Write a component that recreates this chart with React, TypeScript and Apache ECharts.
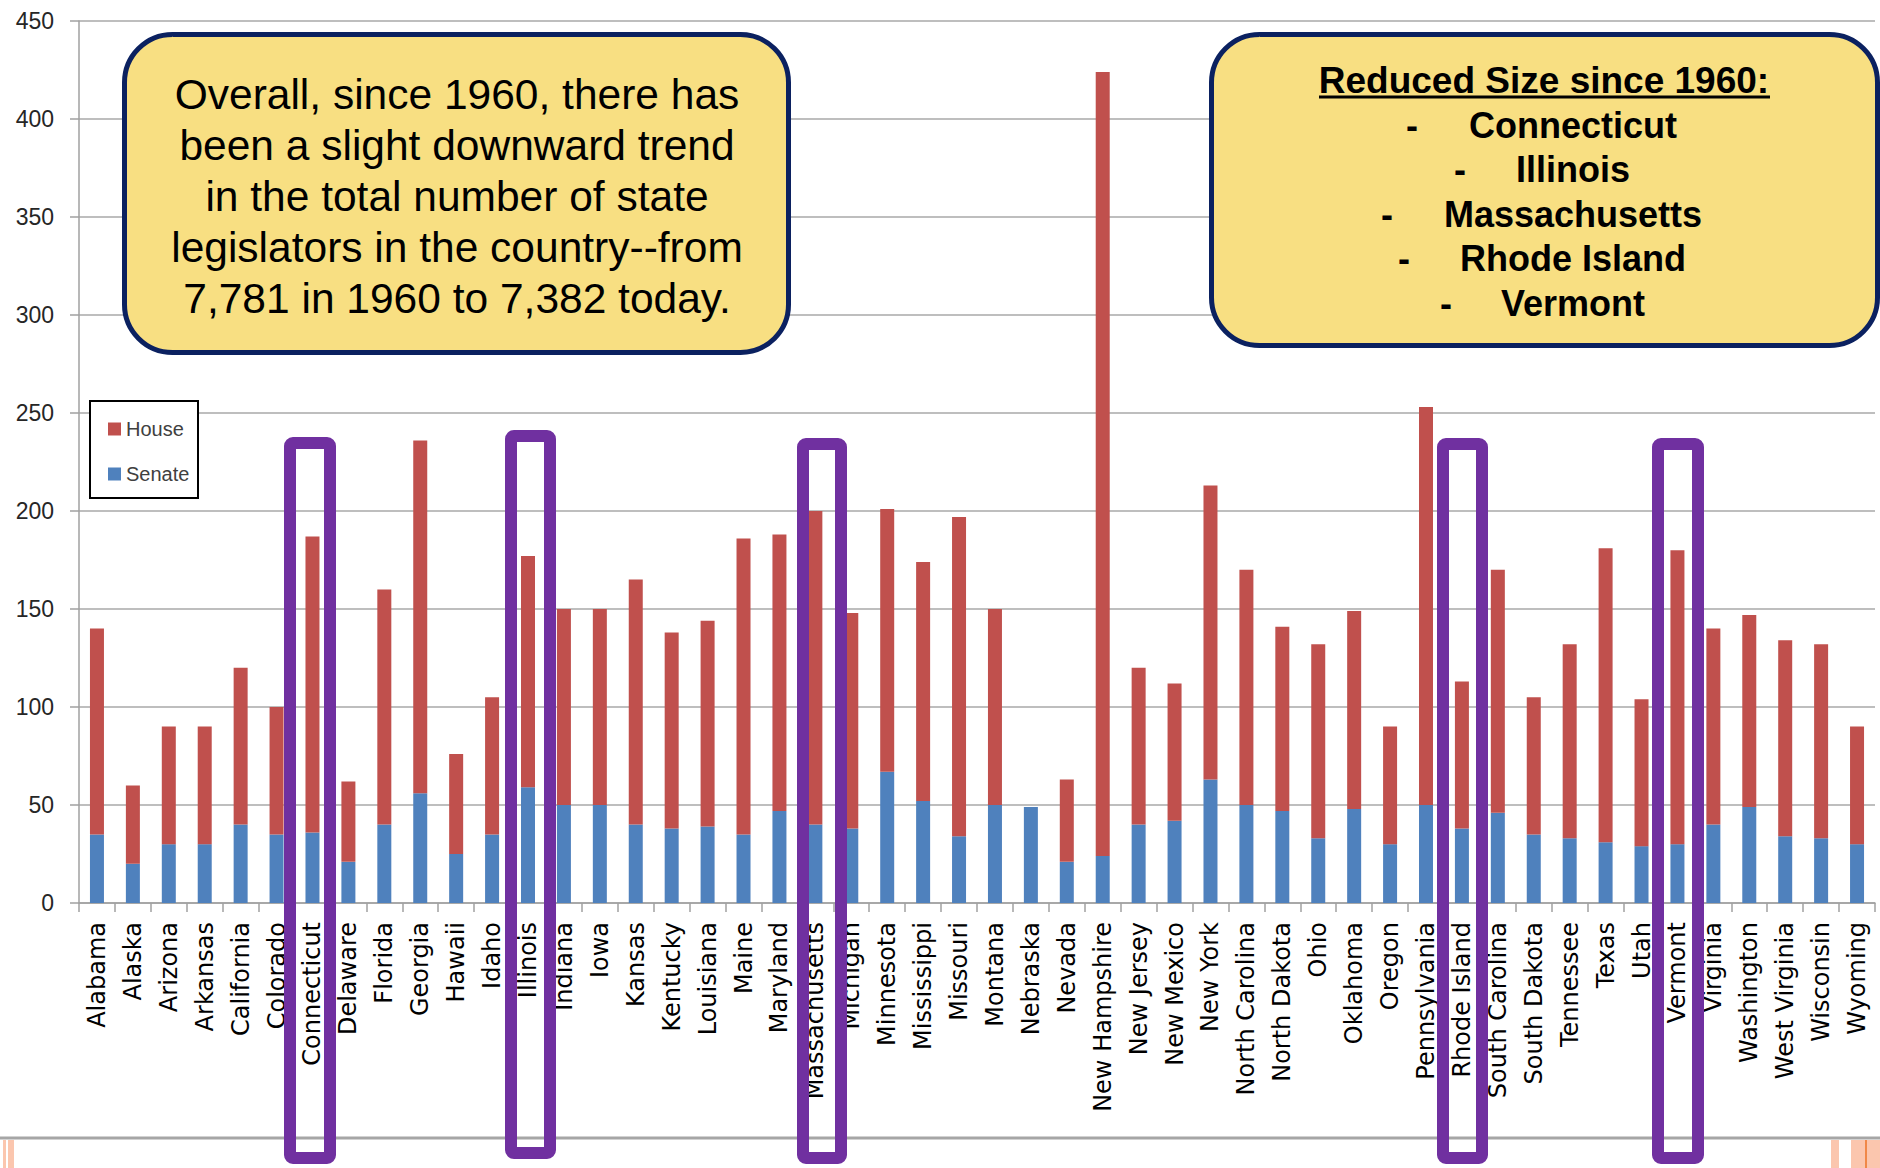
import React, { useEffect, useRef } from "react";
import * as echarts from "echarts";

const states = [
  "Alabama", "Alaska", "Arizona", "Arkansas", "California", "Colorado", "Connecticut", "Delaware", "Florida", "Georgia",
  "Hawaii", "Idaho", "Illinois", "Indiana", "Iowa", "Kansas", "Kentucky", "Louisiana", "Maine", "Maryland",
  "Massachusetts", "Michigan", "Minnesota", "Mississippi", "Missouri", "Montana", "Nebraska", "Nevada", "New Hampshire", "New Jersey",
  "New Mexico", "New York", "North Carolina", "North Dakota", "Ohio", "Oklahoma", "Oregon", "Pennsylvania", "Rhode Island", "South Carolina",
  "South Dakota", "Tennessee", "Texas", "Utah", "Vermont", "Virginia", "Washington", "West Virginia", "Wisconsin", "Wyoming",
];

const senate = [
  35, 20, 30, 30, 40, 35, 36, 21, 40, 56,
  25, 35, 59, 50, 50, 40, 38, 39, 35, 47,
  40, 38, 67, 52, 34, 50, 49, 21, 24, 40,
  42, 63, 50, 47, 33, 48, 30, 50, 38, 46,
  35, 33, 31, 29, 30, 40, 49, 34, 33, 30,
];

const house = [
  105, 40, 60, 60, 80, 65, 151, 41, 120, 180,
  51, 70, 118, 100, 100, 125, 100, 105, 151, 141,
  160, 110, 134, 122, 163, 100, 0, 42, 400, 80,
  70, 150, 120, 94, 99, 101, 60, 203, 75, 124,
  70, 99, 150, 75, 150, 100, 98, 100, 99, 60,
];

const yTicks = { min: 0, max: 450, interval: 50 };

const leftNote = [
  "Overall, since 1960, there has",
  "been a slight downward trend",
  "in the total number of state",
  "legislators in the country--from",
  "7,781 in 1960 to 7,382 today.",
];

const rightTitle = "Reduced Size since 1960:";
const reducedStates = ["Connecticut", "Illinois", "Massachusetts", "Rhode Island", "Vermont"];

export default function App() {
  const ref = useRef<HTMLDivElement>(null);

  useEffect(() => {
    if (!ref.current) return;
    const chart = echarts.init(ref.current, undefined, { renderer: "svg" });

    const graphics: any[] = [];
    // bottom slide line and decorations
    graphics.push({
      type: "line", z: 50,
      shape: { x1: 0, y1: 1138, x2: 1880, y2: 1138 },
      style: { stroke: "#a6a6a6", lineWidth: 3 },
    });
    const pinks = [
      [3, 3], [8, 6], [1831, 8], [1851, 29],
    ];
    pinks.forEach(([x, w]) =>
      graphics.push({ type: "rect", z: 50, shape: { x, y: 1140, width: w, height: 28 }, style: { fill: "#fbc6ae" } })
    );
    graphics.push({ type: "rect", z: 51, shape: { x: 1865, y: 1140, width: 2, height: 28 }, style: { fill: "#f08848" } });

    // left callout
    graphics.push({
      type: "rect", z: 100,
      shape: { x: 124.5, y: 34.5, width: 664, height: 318, r: 48 },
      style: { fill: "#f8df82", stroke: "#0b2160", lineWidth: 5 },
    });
    leftNote.forEach((line, i) =>
      graphics.push({
        type: "text", z: 101,
        style: {
          text: line, x: 457, y: 94 + i * 51,
          fill: "#000", font: '42.5px "Liberation Sans", Arial, sans-serif',
          textAlign: "center", textVerticalAlign: "middle", align: "center", verticalAlign: "middle",
        },
      })
    );

    // right callout
    graphics.push({
      type: "rect", z: 100,
      shape: { x: 1211.5, y: 34.5, width: 666, height: 311, r: 48 },
      style: { fill: "#f8df82", stroke: "#0b2160", lineWidth: 5 },
    });
    graphics.push({
      type: "text", z: 101,
      style: {
        text: rightTitle, x: 1544, y: 80,
        fill: "#000", font: 'bold 37px "Liberation Sans", Arial, sans-serif',
        textAlign: "center", textVerticalAlign: "middle", align: "center", verticalAlign: "middle",
      },
    });
    graphics.push({
      type: "line", z: 101,
      shape: { x1: 1319, y1: 97, x2: 1770, y2: 97 },
      style: { stroke: "#000", lineWidth: 3 },
    });
    const dashX = [1412, 1460, 1387, 1404, 1446];
    reducedStates.forEach((name, i) => {
      const y = 125 + i * 44.6;
      graphics.push({
        type: "text", z: 101,
        style: {
          text: "-", x: dashX[i], y,
          fill: "#000", font: 'bold 36px "Liberation Sans", Arial, sans-serif',
          textAlign: "center", textVerticalAlign: "middle", align: "center", verticalAlign: "middle",
        },
      });
      graphics.push({
        type: "text", z: 101,
        style: {
          text: name, x: 1573, y,
          fill: "#000", font: 'bold 36px "Liberation Sans", Arial, sans-serif',
          textAlign: "center", textVerticalAlign: "middle", align: "center", verticalAlign: "middle",
        },
      });
    });

    // legend border
    graphics.push({
      type: "rect", z: 100,
      shape: { x: 90, y: 401, width: 108, height: 97 },
      style: { fill: "#fff", stroke: "#000", lineWidth: 2 },
    });

    // purple highlight boxes (outer extents)
    const boxes = [
      [284, 437, 336, 1164],
      [505, 430, 556, 1159],
      [797, 438, 847, 1164],
      [1437, 438, 1488, 1164],
      [1652, 438, 1704, 1164],
    ];
    boxes.forEach(([x1, y1, x2, y2]) =>
      graphics.push({
        type: "rect", z: 120,
        shape: { x: x1 + 6, y: y1 + 6, width: x2 - x1 - 12, height: y2 - y1 - 12, r: 3 },
        style: { fill: "none", stroke: "#7030a0", lineWidth: 12 },
      })
    );

    chart.setOption({
      animation: false,
      backgroundColor: "#fff",
      grid: { left: 79, right: 5, top: 21, bottom: 265, containLabel: false },
      legend: {
        data: ["House", "Senate"],
        orient: "vertical",
        left: 108,
        top: 419,
        padding: 0,
        z: 110,
        icon: "rect",
        itemWidth: 13,
        itemHeight: 13,
        itemGap: 25,
        textStyle: { fontSize: 20, lineHeight: 20, color: "#404040", fontFamily: '"Liberation Sans", Arial, sans-serif' },
      },
      xAxis: {
        type: "category",
        data: states,
        boundaryGap: true,
        axisLine: { show: true, lineStyle: { color: "#a0a0a0", width: 1.5 } },
        axisTick: { show: true, length: 9, interval: 0, lineStyle: { color: "#a0a0a0", width: 1.5 } },
        axisLabel: {
          interval: 0, rotate: 90, margin: 19,
          fontSize: 24, color: "#000", fontFamily: '"DejaVu Sans", sans-serif',
        },
        splitLine: { show: false },
      },
      yAxis: {
        type: "value",
        min: yTicks.min,
        max: yTicks.max,
        interval: yTicks.interval,
        axisLine: { show: true, lineStyle: { color: "#a0a0a0", width: 1.5 } },
        axisTick: { show: true, length: 9, lineStyle: { color: "#a0a0a0", width: 1.5 } },
        axisLabel: {
          margin: 25, fontSize: 23, color: "#262626",
          fontFamily: '"Liberation Sans", Arial, sans-serif',
        },
        splitLine: { show: true, lineStyle: { color: "#a8a8a8", width: 1.5 } },
      },
      series: [
        {
          name: "Senate", type: "bar", stack: "total", data: senate, barWidth: 14,
          itemStyle: { color: "#4f81bd" },
        },
        {
          name: "House", type: "bar", stack: "total", data: house, barWidth: 14,
          itemStyle: { color: "#c0504d" },
        },
      ],
      graphic: { elements: graphics },
    });

    return () => chart.dispose();
  }, []);

  return (
    <div
      ref={ref}
      style={{ position: "fixed", left: 0, top: 0, width: 1880, height: 1168, background: "#fff" }}
    />
  );
}
